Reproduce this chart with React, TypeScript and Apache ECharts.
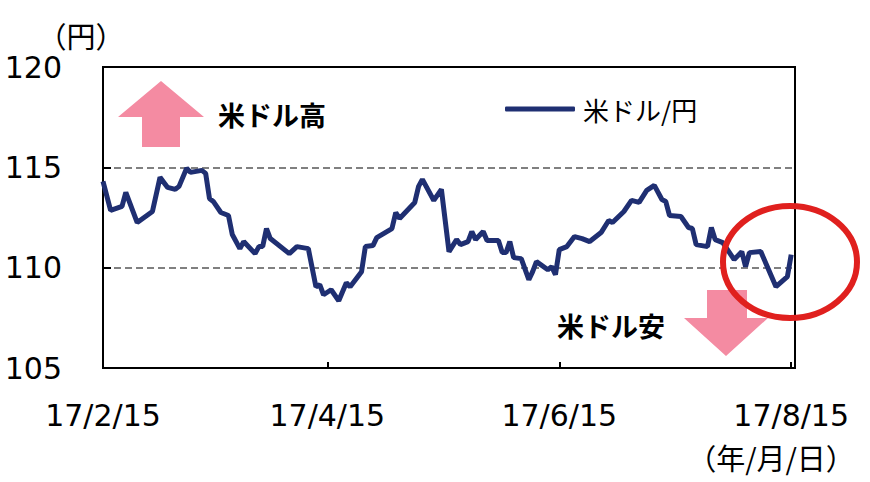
import React, { useEffect, useRef } from "react";
import * as echarts from "echarts";

// USD/JPY rate (trading days, 2017)
const dates = [
  "2017-02-15", "2017-02-17", "2017-02-20", "2017-02-21", "2017-02-24", "2017-02-28",
  "2017-03-02", "2017-03-04", "2017-03-06", "2017-03-07", "2017-03-09", "2017-03-10",
  "2017-03-13", "2017-03-14", "2017-03-15", "2017-03-16", "2017-03-18", "2017-03-20",
  "2017-03-21", "2017-03-23", "2017-03-24", "2017-03-27", "2017-03-28", "2017-03-29",
  "2017-03-30", "2017-03-31", "2017-04-05", "2017-04-07", "2017-04-10", "2017-04-12",
  "2017-04-13", "2017-04-14", "2017-04-16", "2017-04-18", "2017-04-20", "2017-04-21",
  "2017-04-24", "2017-04-25", "2017-04-27", "2017-04-28", "2017-05-02", "2017-05-03",
  "2017-05-04", "2017-05-08", "2017-05-09", "2017-05-10", "2017-05-13", "2017-05-15",
  "2017-05-17", "2017-05-19", "2017-05-20", "2017-05-22", "2017-05-23", "2017-05-24",
  "2017-05-26", "2017-05-27", "2017-05-30", "2017-05-31", "2017-06-01", "2017-06-02",
  "2017-06-03", "2017-06-05", "2017-06-07", "2017-06-08", "2017-06-09", "2017-06-12",
  "2017-06-13", "2017-06-14", "2017-06-15", "2017-06-17", "2017-06-19", "2017-06-21",
  "2017-06-23", "2017-06-26", "2017-06-28", "2017-06-29", "2017-07-02", "2017-07-04",
  "2017-07-06", "2017-07-08", "2017-07-10", "2017-07-12", "2017-07-13", "2017-07-14",
  "2017-07-17", "2017-07-19", "2017-07-20", "2017-07-21", "2017-07-24", "2017-07-25",
  "2017-07-26", "2017-07-28", "2017-07-31", "2017-08-02", "2017-08-03", "2017-08-04",
  "2017-08-07", "2017-08-11", "2017-08-14", "2017-08-15",
];

const usdJpy = [
  114.3, 112.85, 113.05, 113.75, 112.25, 112.8,
  114.5, 114.0, 113.9, 114.05, 114.95, 114.75,
  114.85, 114.7, 113.45, 113.3, 112.75, 112.6,
  111.65, 110.95, 111.3, 110.7, 111.05, 111.05,
  111.95, 111.45, 110.7, 111.05, 110.95, 109.05,
  109.15, 108.65, 108.9, 108.35, 109.25, 109.05,
  109.8, 111.05, 111.1, 111.5, 111.95, 112.75,
  112.45, 113.25, 114.05, 114.4, 113.35, 113.9,
  110.8, 111.4, 111.15, 111.3, 111.8, 111.4,
  111.8, 111.35, 111.35, 110.75, 110.75, 111.3,
  110.5, 110.45, 109.4, 109.8, 110.3, 109.9,
  110.05, 109.65, 110.9, 111.05, 111.55, 111.45,
  111.3, 111.75, 112.35, 112.25, 112.8, 113.35,
  113.25, 113.85, 114.1, 113.4, 113.3, 112.6,
  112.55, 112.0, 111.95, 111.15, 111.05, 112.0,
  111.4, 111.25, 110.4, 110.8, 110.05, 110.75,
  110.8, 109.05, 109.55, 110.65,
];

// x-axis tick dates and axis range
const tickDates = ["2017-02-15", "2017-04-15", "2017-06-15", "2017-08-15"];
const xMin = "2017-02-15";
const xMax = "2017-08-16";

const seriesName = "米ドル/円";
const latin = "DejaVu Sans, Verdana, sans-serif";
const jp = "Noto Sans CJK JP, sans-serif";

const toTime = (s: string) => {
  const [y, m, d] = s.split("-").map(Number);
  return new Date(y, m - 1, d).getTime();
};

const App: React.FC = () => {
  const chartRef = useRef<HTMLDivElement | null>(null);

  useEffect(() => {
    document.body.style.margin = "0";
    if (!chartRef.current) return;
    const chart = echarts.init(chartRef.current, null, { renderer: "svg" });

    const ticks = tickDates.map(toTime);

    chart.setOption({
      animation: false,
      backgroundColor: "#fff",
      grid: {
        left: 103,
        top: 67,
        width: 692,
        height: 301,
        show: true,
        borderColor: "#000",
        borderWidth: 2,
      },
      legend: {
        data: [seriesName],
        left: 500,
        top: 91,
        icon: "roundRect",
        itemWidth: 70,
        itemHeight: 5,
        textStyle: { fontSize: 26, color: "#000", fontFamily: jp, padding: [0, 0, 0, 3] },
      },
      xAxis: {
        type: "value",
        min: toTime(xMin),
        max: toTime(xMax),
        axisLine: { lineStyle: { color: "#000", width: 2 } },
        axisTick: {
          show: true,
          inside: true,
          length: 6,
          customValues: ticks,
          lineStyle: { color: "#000", width: 2 },
        },
        axisLabel: {
          customValues: ticks,
          fontSize: 30,
          color: "#000",
          fontFamily: latin,
          margin: 32,
          hideOverlap: false,
          formatter: (v: number) => {
            const d = new Date(v);
            return `${d.getFullYear() % 100}/${d.getMonth() + 1}/${d.getDate()}`;
          },
        },
        splitLine: { show: false },
      },
      yAxis: {
        type: "value",
        min: 105,
        max: 120,
        interval: 5,
        axisLine: { show: true, lineStyle: { color: "#000", width: 2 } },
        axisTick: { show: true, inside: true, length: 8, lineStyle: { color: "#000", width: 2 } },
        axisLabel: { fontSize: 30, color: "#000", fontFamily: latin, margin: 41 },
        splitLine: {
          show: true,
          lineStyle: {
            color: ["rgba(0,0,0,0)", "#808080", "#808080", "rgba(0,0,0,0)"],
            type: [7, 4],
            width: 2,
          },
        },
      },
      series: [
        {
          name: seriesName,
          type: "line",
          showSymbol: false,
          data: dates.map((d, i) => [toTime(d), usdJpy[i]]),
          lineStyle: { color: "#1f2f72", width: 5 },
          itemStyle: { color: "#1f2f72" },
        },
      ],
      graphic: [
        {
          type: "text",
          style: { text: "（円）", x: 81, y: 35, align: "center", verticalAlign: "middle", fontSize: 29, fontFamily: jp, fill: "#000" },
        },
        {
          type: "polygon",
          shape: { points: [[161, 81], [204, 117], [180, 117], [180, 147], [142, 147], [142, 117], [118, 117]] },
          style: { fill: "#f48ba2" },
        },
        {
          type: "text",
          style: { text: "米ドル高", x: 272, y: 114, align: "center", verticalAlign: "middle", fontSize: 27, fontWeight: "bold", fontFamily: jp, fill: "#000" },
        },
        {
          type: "polygon",
          shape: { points: [[707, 290], [747, 290], [747, 318], [768, 318], [726, 356], [684, 318], [707, 318]] },
          style: { fill: "#f48ba2" },
        },
        {
          type: "text",
          style: { text: "米ドル安", x: 611, y: 325, align: "center", verticalAlign: "middle", fontSize: 27, fontWeight: "bold", fontFamily: jp, fill: "#000" },
        },
        {
          type: "text",
          style: { text: "（年/月/日）", x: 771, y: 457, align: "center", verticalAlign: "middle", fontSize: 29, fontFamily: jp, fill: "#000" },
        },
        {
          type: "ellipse",
          z: 100,
          shape: { cx: 790, cy: 262, rx: 67, ry: 56 },
          style: { fill: "none", stroke: "#e0201e", lineWidth: 6 },
        },
      ],
    });

    return () => {
      chart.dispose();
    };
  }, []);

  return <div ref={chartRef} style={{ width: 870, height: 482 }}></div>;
};

export default App;
